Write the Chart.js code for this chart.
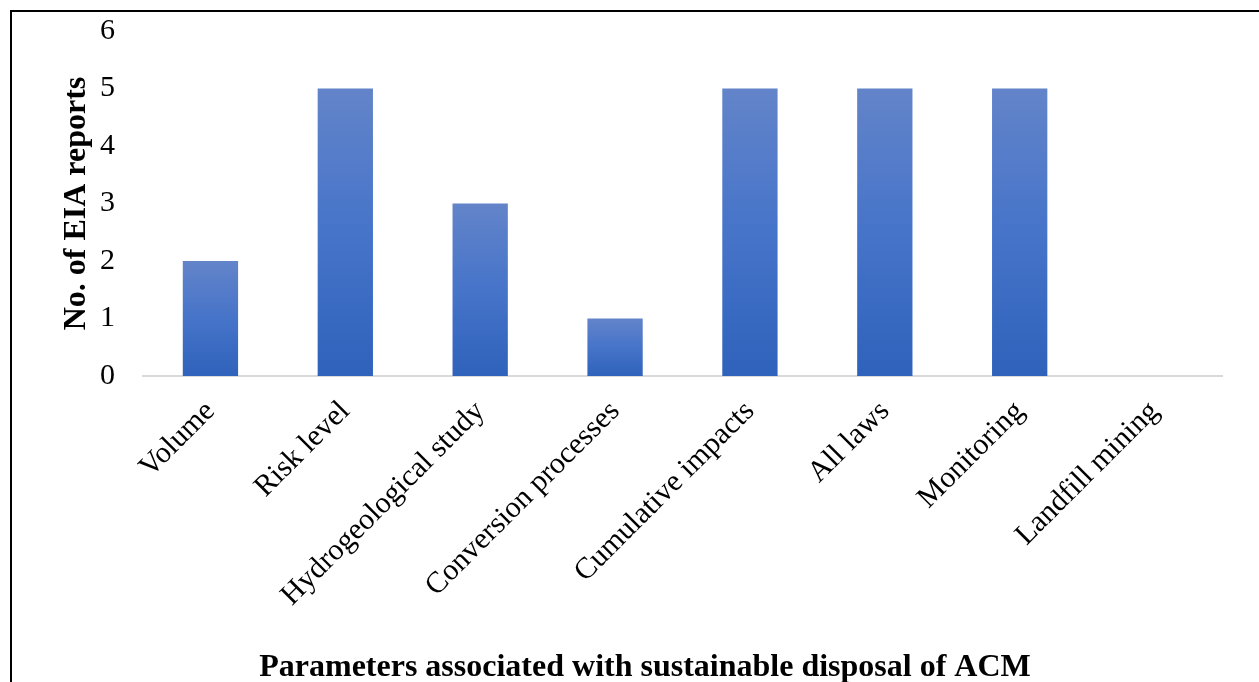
<!DOCTYPE html>
<html>
<head>
<meta charset="utf-8">
<script src="https://cdn.jsdelivr.net/npm/chart.js@4"></script>
<style>
  body { margin: 0; background: #fff; overflow: hidden; }
  #frame { position: absolute; left: 10px; top: 10px; width: 1300px; height: 760px; border: 2px solid #000; }
  #wrap { position: absolute; left: 0; top: 0; width: 1259px; height: 682px; }
</style>
</head>
<body>
<div id="frame"></div>
<div id="wrap"><canvas id="c"></canvas></div>
<script>
// 分类与数值
const categories = ['Volume', 'Risk level', 'Hydrogeological study', 'Conversion processes',
  'Cumulative impacts', 'All laws', 'Monitoring', 'Landfill mining'];
const reportCounts = [2, 5, 3, 1, 5, 5, 5, 0];
const yTicks = [0, 1, 2, 3, 4, 5, 6];

const FONT = "'Liberation Serif', 'Times New Roman', serif";

// 每根柱子单独做上浅下深的渐变
function barGradient(c) {
  const ch = c.chart;
  if (!ch.chartArea || c.parsed == null) return '#4472c4';
  const ys = ch.scales.y;
  const top = ys.getPixelForValue(c.parsed.y);
  const bot = ys.getPixelForValue(0);
  if (bot - top < 1) return '#4472c4';
  const g = ch.ctx.createLinearGradient(0, top, 0, bot);
  g.addColorStop(0, '#6384c9');
  g.addColorStop(0.5, '#4674c9');
  g.addColorStop(1, '#2f62bb');
  return g;
}

new Chart(document.getElementById('c'), {
  type: 'bar',
  data: {
    labels: categories,
    datasets: [{
      data: reportCounts,
      backgroundColor: barGradient,
      categoryPercentage: 1,
      barPercentage: 0.41,
    }]
  },
  options: {
    responsive: true,
    maintainAspectRatio: false,
    animation: false,
    layout: { padding: { left: 68, top: 31, right: 37, bottom: 0 } },
    plugins: {
      legend: { display: false },
      tooltip: { enabled: false },
      // 横轴标题用图表标题放在底部，居中于整个宽度
      title: {
        display: true, position: 'bottom',
        text: 'Parameters associated with sustainable disposal of ACM',
        font: { family: FONT, size: 32, weight: 'bold', lineHeight: 1.2 }, color: '#000',
        padding: { top: 5, bottom: -5 }
      }
    },
    scales: {
      x: {
        grid: { display: false, drawTicks: false },
        border: { color: '#d9d9d9', width: 2 },
        ticks: {
          font: { family: FONT, size: 30 }, color: '#000',
          minRotation: 45, maxRotation: 45, padding: 18, autoSkip: false
        },
        afterFit: s => { s.height = 306 - 38.4; s.paddingLeft = 0; s.paddingRight = 0; }
      },
      y: {
        min: 0, max: 6,
        grid: { display: false, drawTicks: false },
        border: { display: false },
        afterBuildTicks: s => { s.ticks = yTicks.map(v => ({ value: v })); },
        ticks: { font: { family: FONT, size: 30 }, color: '#000', padding: 28 },
        title: {
          display: true, text: 'No. of EIA reports',
          font: { family: FONT, size: 32, weight: 'bold', lineHeight: 0.55 }, color: '#000',
          padding: 0
        },
        afterFit: s => { s.width = 75; s.paddingTop = 0; s.paddingBottom = 0; }
      }
    }
  }
});
</script>
</body>
</html>
